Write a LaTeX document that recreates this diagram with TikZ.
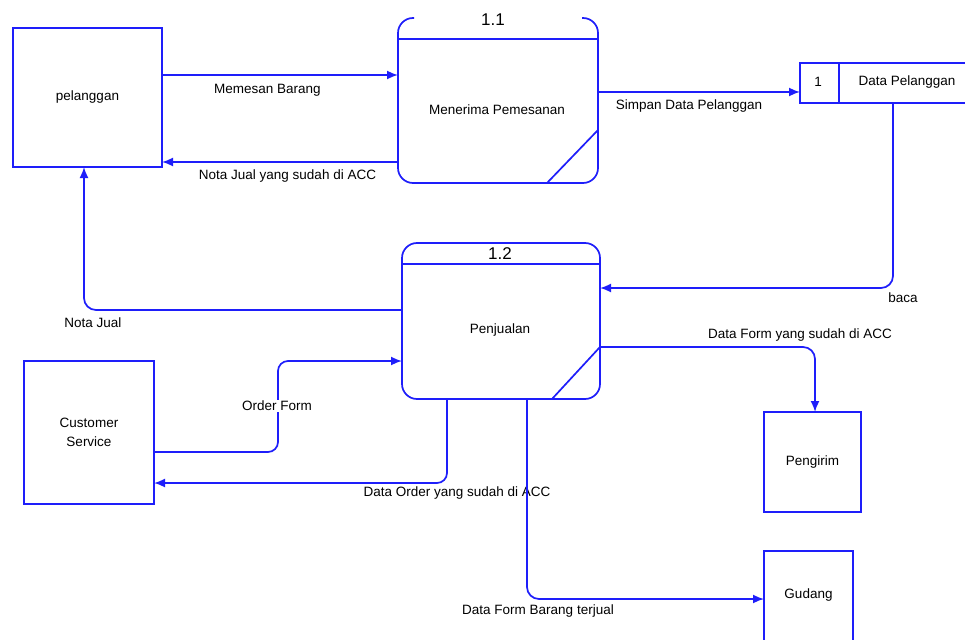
\documentclass[tikz,border=0pt]{standalone}
\usepackage{fontspec}
\setmainfont{Liberation Sans}
\usetikzlibrary{arrows.meta}
\definecolor{dfd}{RGB}{30,30,250}
\begin{document}
\begin{tikzpicture}[x=1pt,y=-1pt,
  ln/.style={draw=dfd, line width=1.7pt},
  ent/.style={ln, rectangle, inner sep=0pt, outer sep=0pt, align=center, font=\fontsize{13.5}{19}\selectfont},
  ghost/.style={rectangle, inner sep=0pt, outer sep=0pt},
  flow/.style={ln, -{Latex[length=11pt,width=9pt]}},
  lbl/.style={inner sep=1pt, font=\fontsize{13.5}{15}\selectfont, text=black},
  num/.style={inner sep=0pt, font=\fontsize{17}{19}\selectfont, text=black}]
\useasboundingbox (0,0) rectangle (965,639);
\fill[white] (0,0) rectangle (965,639);

% entities
\node[ent, minimum width=149pt, minimum height=139pt] (pel) at (87.5,97.5) {pelanggan};
\node[ent, minimum width=130pt, minimum height=143pt] (cs) at (89,432.5) {Customer\\Service};
\node[ent, minimum width=97pt, minimum height=100pt] (peng) at (812.5,462) {Pengirim};
\node[ghost, minimum width=89pt, minimum height=88pt, font=\fontsize{13.5}{15}\selectfont] (gud) at (808.5,595) {Gudang};
\draw[ln] (gud.west |- 0,645) -- (gud.north west) -- (gud.north east) -- (gud.east |- 0,645);

% process 1.1
\node[ghost, minimum width=200pt, minimum height=165pt] (p11) at (498,100.5) {};
\draw[ln, rounded corners=15pt] ([xshift=16pt]p11.north west) -- (p11.north west) -- (p11.south west)
  -- (p11.south east) -- (p11.north east) -- ([xshift=-16pt]p11.north east);
\draw[ln] (p11.west |- 0,39) -- (p11.east |- 0,39);
\draw[ln] (p11.east |- 0,130) -- (p11.south -| 547,0);
\node[num] (n11) at (493,20) {1.1};
\node[lbl] (t11) at (497,110) {Menerima Pemesanan};

% process 1.2
\node[ln, rectangle, rounded corners=15pt, inner sep=0pt, outer sep=0pt, minimum width=198pt, minimum height=156pt] (p12) at (501,321) {};
\draw[ln] (p12.west |- 0,264) -- (p12.east |- 0,264);
\draw[ln] (p12.east |- 0,347) -- (p12.south -| 552,0);
\node[num] (n12) at (500,254) {1.2};
\node[lbl] (t12) at (500,330) {Penjualan};

% data store
\node[ghost, minimum width=165pt, minimum height=40pt] (ds) at (882.5,83) {};
\draw[ln] (ds.north east) -- (ds.north west) -- (ds.south west) -- (ds.south east);
\draw[ln] (ds.north -| 839,0) -- (ds.south -| 839,0);
\node[lbl] (dsn) at (818,82) {1};
\node[lbl] (dst) at (907,82) {Data Pelanggan};

% flows
\draw[flow] (pel.east |- 0,75) -- (p11.west |- 0,75);
\node[lbl] (l1) at (267.5,90) {Memesan Barang};

\draw[flow] (p11.west |- 0,162) -- (pel.east |- 0,162);
\node[lbl] (l2) at (287.5,176) {Nota Jual yang sudah di ACC};

\draw[flow] (p11.east |- 0,92) -- (ds.west |- 0,92);
\node[lbl] (l3) at (689,106) {Simpan Data Pelanggan};

\draw[flow, rounded corners=12pt] (ds.south -| 893,0) -- (893,288) -- (p12.east |- 0,288);
\node[lbl] (l4) at (903,298) {baca};

\draw[flow, rounded corners=12pt] (p12.west |- 0,310) -- (84,310) -- (pel.south -| 84,0);
\node[lbl] (l5) at (93,323) {Nota Jual};

\draw[flow, rounded corners=10pt] (cs.east |- 0,452) -- (278,452) -- (278,361) -- (p12.west |- 0,361);
\node[lbl, fill=white] (l6) at (277,406) {Order Form};

\draw[flow, rounded corners=10pt] (p12.south -| 447,0) -- (447,483) -- (cs.east |- 0,483);
\node[lbl] (l7) at (457,493) {Data Order yang sudah di ACC};

\draw[flow, rounded corners=12pt] (p12.east |- 0,347) -- (815,347) -- (peng.north -| 815,0);
\node[lbl] (l8) at (800,335) {Data Form yang sudah di ACC};

\draw[flow, rounded corners=12pt] (p12.south -| 527,0) -- (527,599) -- (gud.west |- 0,599);
\node[lbl] (l9) at (538,611) {Data Form Barang terjual};
\end{tikzpicture}
\end{document}
